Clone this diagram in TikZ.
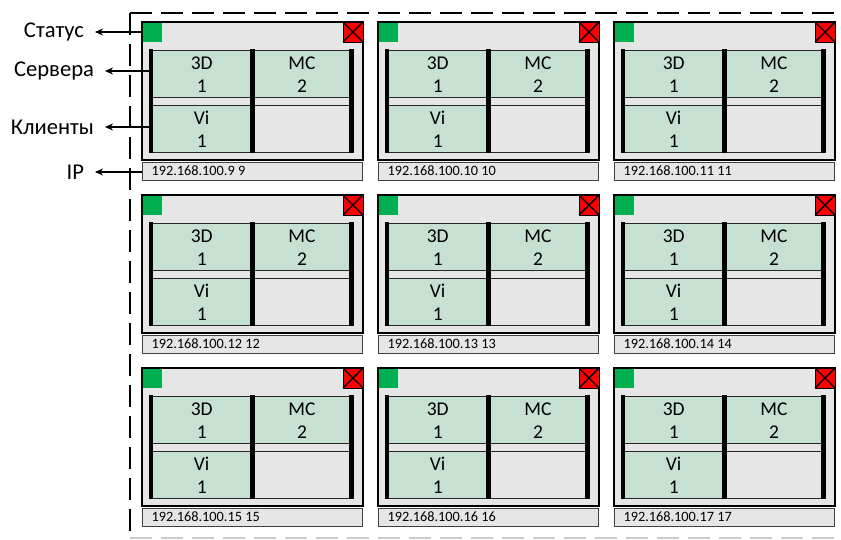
\documentclass[tikz,border=0pt]{standalone}
\usepackage{fontspec}
\setmainfont{Carlito}
\usetikzlibrary{arrows.meta}
\definecolor{panelgray}{HTML}{E7E6E6}
\definecolor{cellgreen}{HTML}{C6E0D1}
\definecolor{okgreen}{HTML}{00B050}
\definecolor{dashgray}{HTML}{CCCCCC}

\begin{document}
\begin{tikzpicture}[x=1pt, y=-1pt,
    panel/.style={fill=panelgray, draw=black, line width=1.8pt},
    ipbar/.style={fill=panelgray, draw=black!75, line width=1pt},
    cell/.style={fill=cellgreen, draw=black!85, line width=1pt},
    emptycell/.style={fill=panelgray, draw=black!85, line width=1pt},
    bar/.style={line width=4.6pt},
    celltxt/.style={font=\fontsize{19.5}{23}\selectfont, align=center},
    iptxt/.style={font=\fontsize{14.3}{16}\selectfont, anchor=west},
    lbl/.style={font=\fontsize{22.6}{26}\selectfont, anchor=east, inner sep=0pt, outer xsep=11pt},
    arr/.style={-{Stealth[length=8pt,width=7pt]}, line width=1.8pt},
    frame/.style={dash pattern=on 22pt off 9pt, line width=2.8pt}]

    \useasboundingbox (0,0) rectangle (841,539);

    % Dashed frame
    \draw[frame] (130,13) -- (841,13);
    \draw[frame] (130,13) -- (130,539);
    \draw[frame, dashgray, line width=2.2pt] (130,538) -- (841,538);

    % Panels, three by three
    \foreach \r in {0,1,2} {
      \foreach \c in {0,1,2} {
        \pgfmathtruncatemacro{\ip}{9+3*\r+\c}
        \begin{scope}[shift={(142+236*\c,22+173*\r)}]
          % Box and IP bar
          \draw[panel] (0,0) rectangle (221,138);
          \draw[ipbar] (0,140) rectangle (220,158);
          \node[iptxt] (ip\r\c) at (6,149) {192.168.100.\ip\ \ip};

          % Status and close squares
          \fill[okgreen] (0.9,0.9) rectangle (20,20);
          \draw[fill=red, line width=1pt] (201,0) rectangle (221,20);
          \draw[line width=1.4pt] (201,0) -- (221,20) (201,20) -- (221,0);

          % Server and client cells
          \draw[cell] (9,28) rectangle (110.5,75);
          \draw[cell] (110.5,28) rectangle (209.5,75);
          \draw[cell] (9,83) rectangle (110.5,130);
          \draw[emptycell] (110.5,83) rectangle (209.5,130);
          \draw[bar] (9,27) -- (9,131);
          \draw[bar] (110.5,27) -- (110.5,131);
          \draw[bar] (209.5,27) -- (209.5,131);
          \node[celltxt] (srvA\r\c) at (59.7,52.5) {3D\\1};
          \node[celltxt] (srvB\r\c) at (160,52.5) {MC\\2};
          \node[celltxt] (cli\r\c) at (59.7,107.5) {Vi\\1};

          % Anchors for the legend arrows
          \coordinate (st\r\c) at (0,10);
          \coordinate (sv\r\c) at (7,49);
          \coordinate (cl\r\c) at (7,105);
          \coordinate (ipa\r\c) at (0,150);
        \end{scope}
      }
    }

    % Legend
    \node[lbl] (status) at (95,32) {Статус};
    \node[lbl] (servers) at (105,71) {Сервера};
    \node[lbl] (clients) at (105,127) {Клиенты};
    \node[lbl] (iplbl) at (95,172) {IP};

    \draw[arr] (st00) -- (status);
    \draw[arr] (sv00) -- (servers);
    \draw[arr] (cl00) -- (clients);
    \draw[arr] (ipa00) -- (iplbl);

\end{tikzpicture}
\end{document}
